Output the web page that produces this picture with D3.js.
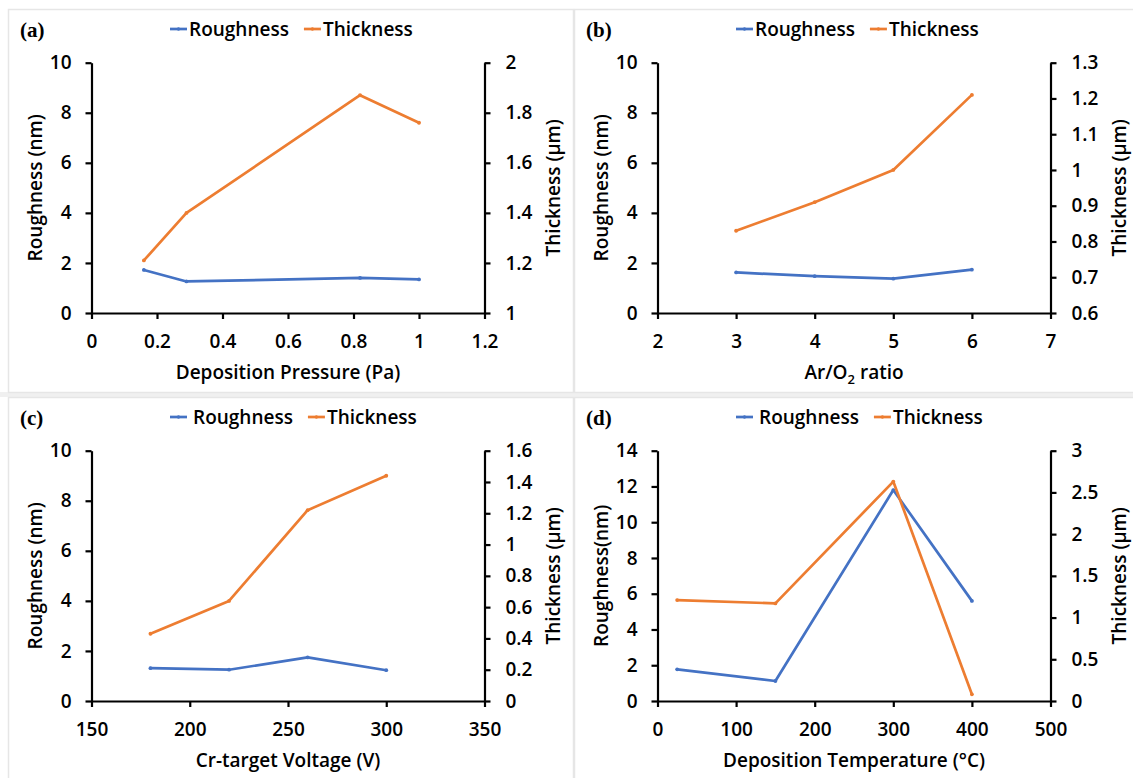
<!DOCTYPE html>
<html>
<head>
<meta charset="utf-8">
<script src="https://cdn.jsdelivr.net/npm/d3@7"></script>
<style>
  html, body { margin: 0; padding: 0; background: #fff; }
  svg { display: block; }
  text { font-family: "Open Sans", "DejaVu Sans", sans-serif; fill: #000; }
  .tick text { font-size: 19px; font-weight: 600; }
  .axis-title { font-size: 19px; font-weight: 600; }
  .legend-text { font-size: 19px; font-weight: 600; }
  .panel-label { font-family: "Liberation Serif", "DejaVu Serif", serif; font-size: 21px; font-weight: bold; }
</style>
</head>
<body>
<svg id="chart" width="1133" height="778"></svg>
<script>
// (a) deposition pressure series
const pressure = [0.16, 0.29, 0.82, 1.0];
const pressureRoughness = [1.72, 1.26, 1.40, 1.34];
const pressureThickness = [1.21, 1.40, 1.87, 1.76];

// (b) Ar/O2 ratio series
const arO2Ratio = [3, 4, 5, 6];
const arO2Roughness = [1.62, 1.47, 1.37, 1.73];
const arO2Thickness = [0.83, 0.91, 1.00, 1.21];

// (c) Cr-target voltage series
const crVoltage = [180, 220, 260, 300];
const crRoughness = [1.31, 1.25, 1.74, 1.23];
const crThickness = [0.43, 0.64, 1.22, 1.44];

// (d) deposition temperature series
const depTemperature = [25, 150, 300, 400];
const tempRoughness = [1.77, 1.12, 11.8, 5.6];
const tempThickness = [1.21, 1.17, 2.63, 0.08];

// tick labels
const pressureTicks = [0, 0.2, 0.4, 0.6, 0.8, 1, 1.2];
const ratioTicks = [2, 3, 4, 5, 6, 7];
const voltageTicks = [150, 200, 250, 300, 350];
const temperatureTicks = [0, 100, 200, 300, 400, 500];
const roughnessTicks10 = [0, 2, 4, 6, 8, 10];
const roughnessTicks14 = [0, 2, 4, 6, 8, 10, 12, 14];
const thicknessTicksA = [1, 1.2, 1.4, 1.6, 1.8, 2];
const thicknessTicksB = [0.6, 0.7, 0.8, 0.9, 1, 1.1, 1.2, 1.3];
const thicknessTicksC = [0, 0.2, 0.4, 0.6, 0.8, 1, 1.2, 1.4, 1.6];
const thicknessTicksD = [0, 0.5, 1, 1.5, 2, 2.5, 3];

const seriesNames = ["Roughness", "Thickness"];
const colors = { Roughness: "#4472C4", Thickness: "#ED7D31" };

const panels = [
  { label: "(a)", ox: 0, oy: 0, x: pressure, r: pressureRoughness, t: pressureThickness,
    xTicks: pressureTicks, rTicks: roughnessTicks10, tTicks: thicknessTicksA,
    xTitle: ["Deposition Pressure (Pa)"], rTitle: "Roughness (nm)", legendGap: [2, 2] },
  { label: "(b)", ox: 566, oy: 0, x: arO2Ratio, r: arO2Roughness, t: arO2Thickness,
    xTicks: ratioTicks, rTicks: roughnessTicks10, tTicks: thicknessTicksB,
    xTitle: ["Ar/O", "2", " ratio"], rTitle: "Roughness (nm)", legendGap: [2, 2] },
  { label: "(c)", ox: 0, oy: 388, x: crVoltage, r: crRoughness, t: crThickness,
    xTicks: voltageTicks, rTicks: roughnessTicks10, tTicks: thicknessTicksC,
    xTitle: ["Cr-target Voltage (V)"], rTitle: "Roughness (nm)", legendGap: [6, 2] },
  { label: "(d)", ox: 566, oy: 388, x: depTemperature, r: tempRoughness, t: tempThickness,
    xTicks: temperatureTicks, rTicks: roughnessTicks14, tTicks: thicknessTicksD,
    xTitle: ["Deposition Temperature (°C)"], rTitle: "Roughness(nm)", legendGap: [6, 2] }
];

const svg = d3.select("#chart");

// panel frames
svg.append("rect").attr("x", 0).attr("y", 392).attr("width", 1133).attr("height", 5).attr("fill", "#f0f0f0");
[[8, 9, 565, 383], [574, 9, 600, 383], [8, 397, 565, 400], [574, 397, 600, 400]].forEach(([x, y, w, h]) => {
  svg.append("rect").attr("x", x + 0.5).attr("y", y + 0.5).attr("width", w).attr("height", h)
    .attr("fill", "none").attr("stroke", "#e6e6e6").attr("stroke-width", 1.5);
});

const plot = { left: 91.5, right: 484.5, top: 62.7, bottom: 313 };
const fmt = d3.format("~g");

panels.forEach(p => {
  const g = svg.append("g").attr("transform", `translate(${p.ox},${p.oy})`);

  const x = d3.scaleLinear().domain(d3.extent(p.xTicks)).range([plot.left, plot.right]);
  const yL = d3.scaleLinear().domain(d3.extent(p.rTicks)).range([plot.bottom, plot.top]);
  const yR = d3.scaleLinear().domain(d3.extent(p.tTicks)).range([plot.bottom, plot.top]);

  const styleAxis = sel => {
    sel.selectAll(".domain").attr("stroke", "#000").attr("stroke-width", 2.2);
    sel.selectAll(".tick line").attr("stroke", "#000").attr("stroke-width", 2.2);
    sel.selectAll(".tick text").attr("font-family", null).attr("font-size", null);
  };

  g.append("g").attr("transform", `translate(${plot.left},0)`)
    .call(d3.axisLeft(yL).tickValues(p.rTicks).tickFormat(fmt).tickSize(6).tickSizeOuter(0).tickPadding(14))
    .call(styleAxis);
  g.append("g").attr("transform", `translate(${plot.right},0)`)
    .call(d3.axisRight(yR).tickValues(p.tTicks).tickFormat(fmt).tickSize(6).tickSizeOuter(0).tickPadding(15))
    .call(styleAxis);
  g.append("g").attr("transform", `translate(0,${plot.bottom})`)
    .call(d3.axisBottom(x).tickValues(p.xTicks).tickFormat(fmt).tickSize(6).tickSizeOuter(0).tickPadding(16))
    .call(styleAxis);

  // series lines
  const series = [
    { name: "Roughness", y: yL, vals: p.r },
    { name: "Thickness", y: yR, vals: p.t }
  ];
  series.forEach(s => {
    const pts = p.x.map((xv, i) => [x(xv), s.y(s.vals[i])]);
    g.append("path").attr("d", d3.line()(pts)).attr("fill", "none")
      .attr("stroke", colors[s.name]).attr("stroke-width", 2.7)
      .attr("stroke-linejoin", "round").attr("stroke-linecap", "round");
    g.selectAll(null).data(pts).join("circle")
      .attr("cx", d => d[0]).attr("cy", d => d[1]).attr("r", 1.9)
      .attr("fill", colors[s.name]);
  });

  // panel label
  g.append("text").attr("class", "panel-label").attr("x", 20).attr("y", 37).text(p.label);

  // legend
  const lg = g.append("g").attr("transform", "translate(0,29)");
  let cx = 170;
  seriesNames.forEach((name, i) => {
    lg.append("line").attr("x1", cx).attr("x2", cx + 17).attr("y1", 0).attr("y2", 0)
      .attr("stroke", colors[name]).attr("stroke-width", 2.7);
    lg.append("circle").attr("cx", cx + 8.5).attr("cy", 0).attr("r", 1.7).attr("fill", colors[name]);
    const t = lg.append("text").attr("class", "legend-text").attr("x", cx + 17 + p.legendGap[i])
      .attr("dominant-baseline", "central").text(name);
    cx = cx + 17 + p.legendGap[i] + t.node().getComputedTextLength() + 15;
  });

  // axis titles
  const midY = (plot.top + plot.bottom) / 2;
  g.append("text").attr("class", "axis-title").attr("text-anchor", "middle")
    .attr("dominant-baseline", "central")
    .attr("transform", `translate(35,${midY}) rotate(-90)`).text(p.rTitle);
  g.append("text").attr("class", "axis-title").attr("text-anchor", "middle")
    .attr("dominant-baseline", "central")
    .attr("transform", `translate(553,${midY}) rotate(-90)`).text("Thickness (µm)");

  const xt = g.append("text").attr("class", "axis-title").attr("text-anchor", "middle")
    .attr("x", (plot.left + plot.right) / 2).attr("y", 379);
  if (p.xTitle.length === 1) {
    xt.text(p.xTitle[0]);
  } else {
    xt.append("tspan").text(p.xTitle[0]);
    xt.append("tspan").attr("font-size", "13px").attr("dy", 5).text(p.xTitle[1]);
    xt.append("tspan").attr("dy", -5).text(p.xTitle[2]);
  }
});
</script>
</body>
</html>
